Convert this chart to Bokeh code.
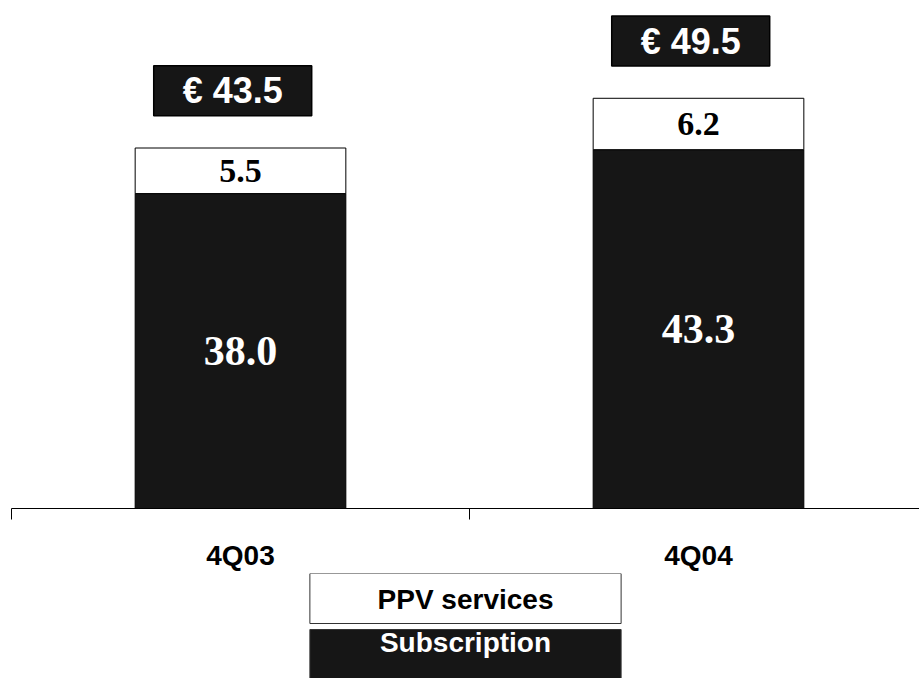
from bokeh.plotting import figure
from bokeh.models import ColumnDataSource, Range1d, FixedTicker
from bokeh.layouts import column
from bokeh.embed import file_html
from bokeh.resources import INLINE
from bokeh.core.properties import value

# ---- data ----
quarters = ["4Q03", "4Q04"]
subscription = [38.0, 43.3]
ppv_services = [5.5, 6.2]
totals = [43.5, 49.5]
series_names = ["PPV services", "Subscription"]

DARK = "#161616"

xs = [i + 1 for i in range(len(quarters))]
ppv_top = [s + v for s, v in zip(subscription, ppv_services)]

src = ColumnDataSource(dict(
    x=xs,
    sub=subscription,
    ppv=ppv_services,
    ppv_top=ppv_top,
    sub_mid=[s / 2 for s in subscription],
    ppv_mid=[s + v / 2 for s, v in zip(subscription, ppv_services)],
    sub_lbl=[f"{s:.1f}" for s in subscription],
    ppv_lbl=[f"{v:.1f}" for v in ppv_services],
    tot_x=[x - 0.017 for x in xs],
    tot_y=[t + 6.9 for t in totals],
    tot_lbl=[f"€ {t:.1f}" for t in totals],
))

p = figure(width=919, height=573,
           x_range=Range1d(0.5, 0.5 + 908 / 458), y_range=Range1d(0, 61.3),
           output_backend="svg", toolbar_location=None,
           y_axis_location=None,
           min_border_left=11, min_border_right=0, min_border_top=0,
           min_border_bottom=65)
p.outline_line_color = None
p.grid.visible = False
p.background_fill_color = "white"
p.border_fill_color = "white"

ax = p.xaxis[0]
ax.ticker = FixedTicker(ticks=xs, minor_ticks=[x - 0.5 for x in xs])
ax.major_label_overrides = {x: q for x, q in zip(xs, quarters)}
ax.major_tick_line_color = None
ax.major_tick_out = 0
ax.major_tick_in = 0
ax.minor_tick_out = 11
ax.minor_tick_in = 0
ax.minor_tick_line_color = "black"
ax.axis_line_color = "black"
ax.axis_line_width = 1
ax.major_label_standoff = 20
ax.major_label_text_font = "Liberation Sans"
ax.major_label_text_font_style = "bold"
ax.major_label_text_font_size = "28px"
ax.major_label_text_color = "black"

# bars
p.vbar(x="x", bottom=0, top="sub", width=0.46, source=src,
       fill_color=DARK, line_color="black", line_width=1)
p.vbar(x="x", bottom="sub", top="ppv_top", width=0.46, source=src,
       fill_color="white", line_color="black", line_width=1)

# segment labels
p.text(x="x", y="sub_mid", text="sub_lbl", source=src,
       text_align="center", text_baseline="middle",
       text_font=value("Liberation Serif"), text_font_style="bold",
       text_font_size="42px", text_color="white")
p.text(x="x", y="ppv_mid", text="ppv_lbl", source=src,
       text_align="center", text_baseline="middle",
       text_font=value("Liberation Serif"), text_font_style="bold",
       text_font_size="34px", text_color="black")

# total boxes
p.rect(x="tot_x", y="tot_y", width=158, height=50,
       width_units="screen", height_units="screen", source=src,
       fill_color=DARK, line_color="black", line_width=1.5)
p.text(x="tot_x", y="tot_y", text="tot_lbl", source=src,
       text_align="center", text_baseline="middle",
       text_font=value("Liberation Sans"), text_font_style="bold",
       text_font_size="36px", text_color="white")

# ---- legend panel ----
lg = figure(width=919, height=105,
            x_range=Range1d(0, 919), y_range=Range1d(105, 0),
            output_backend="svg", toolbar_location=None,
            x_axis_location=None, y_axis_location=None,
            min_border=0)
lg.outline_line_color = None
lg.grid.visible = False

leg_src = ColumnDataSource(dict(
    x=[459.5, 459.5],
    y=[25, 81],
    ty=[26, 69],
    name=series_names,
    fill=["white", DARK],
    tcol=["black", "white"],
))
lg.rect(x="x", y="y", width=315, height=50, source=leg_src,
        fill_color="fill", line_color="#333333", line_width=1)
lg.text(x="x", y="ty", text="name", source=leg_src,
        text_align="center", text_baseline="middle",
        text_font=value("Liberation Sans"), text_font_style="bold",
        text_font_size="28px", text_color="tcol")

layout = column(p, lg, spacing=0)
open("out.html", "w").write(file_html(layout, INLINE))
